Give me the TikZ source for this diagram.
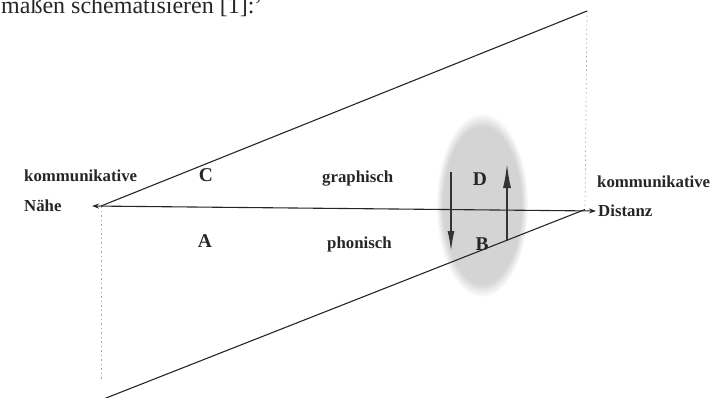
\documentclass[tikz,border=0pt]{standalone}
\usepackage{fontspec}
\setmainfont{Liberation Serif}
\usetikzlibrary{arrows.meta,fadings}
\begin{document}
\begin{tikzpicture}[x=1pt,y=-1pt,
  lbl/.style={font=\bfseries\fontsize{16.8}{18}\selectfont, inner sep=0pt, text=black!85},
  big/.style={font=\bfseries\fontsize{19.5}{20}\selectfont, inner sep=0pt, text=black!85},
  mainline/.style={line width=1.1pt, draw=black!85},
  guide/.style={draw=black!35, line width=0.7pt, dash pattern=on 1.5pt off 3pt},
  vert/.style={line width=2pt, draw=black!80, fill=black!70}]
\useasboundingbox (0,0) rectangle (722,397);
\clip (0,0) rectangle (722,397);
% grey blob (fuzzy)
\fill[black!17, path fading=circle with fuzzy edge 15 percent] (482,205) ellipse [x radius=46, y radius=92];
% frame coordinates
\coordinate (L) at (101,206);
\coordinate (TR) at (587,11);
\coordinate (R) at (585,209.5);
\coordinate (BL) at (101,400);
\coordinate (LD) at (101,380);
\coordinate (tipL) at (92,206);
\coordinate (tipR) at (596,211);
% dotted guides
\draw[guide] (L) -- (LD);
\draw[guide] (TR) -- (R);
% main lines
\draw[mainline] (L) -- (TR);
\draw[mainline] (R) -- (BL);
\draw[mainline, {Stealth[length=7pt,width=5pt]}-{Stealth[length=7pt,width=5pt]}] (tipL) -- (tipR);
% vertical arrows
\coordinate (d1) at (451,172);
\coordinate (d2) at (451,252);
\coordinate (u1) at (507,241);
\coordinate (u2) at (507,163);
\draw[vert, -{Latex[length=21pt,width=7pt]}] (d1) -- (d2);
\draw[vert, -{Latex[length=25pt,width=8pt]}] (u1) -- (u2);
% labels
\node[lbl, anchor=base west] (k1) at (24,181) {kommunikative};
\node[lbl, anchor=base west] (n1) at (24,211.5) {Nähe};
\node[lbl, anchor=base west] (k2) at (597,187) {kommunikative};
\node[lbl, anchor=base west] (d) at (598,216.5) {Distanz};
\node[lbl, anchor=base west] (g) at (322,182.5) {graphisch};
\node[lbl, anchor=base west] (p) at (327,248) {phonisch};
\node[big, anchor=base] (C) at (206,181.5) {C};
\node[big, anchor=base] (A) at (205,247) {A};
\node[big, anchor=base] (D) at (480,185) {D};
\node[big, anchor=base] (B) at (482,250) {B};
\node[font=\fontsize{24}{26}\selectfont, inner sep=0pt, anchor=base west, text=black!85] (top) at (1,13) {maßen schematisieren [1]:’};
\end{tikzpicture}
\end{document}
